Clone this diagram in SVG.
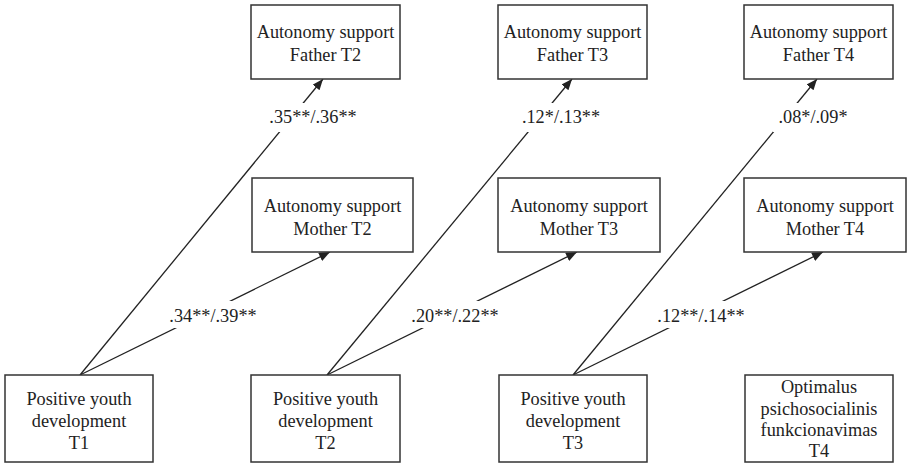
<svg xmlns="http://www.w3.org/2000/svg" width="908" height="465" viewBox="0 0 908 465" font-family="Liberation Serif" font-size="18.3">
<defs>
<marker id="ah" markerUnits="userSpaceOnUse" markerWidth="12" markerHeight="10" refX="11" refY="4.5" orient="auto">
<path d="M0,0 L11,4.5 L0,9 z" fill="#222"/>
</marker>
</defs>
<rect width="908" height="465" fill="#fff"/>
<g id="connectors" stroke="#222" stroke-width="1.3" fill="none">
<line marker-end="url(#ah)" x1="80" y1="375" x2="323" y2="79"/>
<line marker-end="url(#ah)" x1="80" y1="375" x2="330" y2="252"/>
<line marker-end="url(#ah)" x1="327" y1="375" x2="572" y2="79"/>
<line marker-end="url(#ah)" x1="327" y1="375" x2="577" y2="252"/>
<line marker-end="url(#ah)" x1="573" y1="375" x2="817" y2="79"/>
<line marker-end="url(#ah)" x1="573" y1="375" x2="823" y2="252"/>
</g>
<g id="labels" text-anchor="middle" fill="#222" font-family="Liberation Serif, serif" font-size="18.3">
<rect fill="#fff" x="266" y="103" width="94" height="29"/>
<text x="313" y="123">.35**/.36**</text>
<rect fill="#fff" x="521" y="103" width="80" height="29"/>
<text x="561" y="123">.12*/.13**</text>
<rect fill="#fff" x="773" y="103" width="80" height="29"/>
<text x="813" y="123">.08*/.09*</text>
<rect fill="#fff" x="167" y="301" width="93" height="27"/>
<text x="213" y="322">.34**/.39**</text>
<rect fill="#fff" x="409" y="301" width="93" height="27"/>
<text x="455" y="322">.20**/.22**</text>
<rect fill="#fff" x="655" y="301" width="93" height="27"/>
<text x="701" y="322">.12**/.14**</text>
</g>
<g text-anchor="middle" font-family="Liberation Serif, serif" font-size="18.3">
<g id="father-t2"><rect fill="#fff" stroke="#333" stroke-width="1.5" x="251" y="5" width="149" height="74"/><text fill="#222" x="325.5" y="38">Autonomy support</text><text fill="#222" x="325.5" y="61">Father T2</text></g>
<g id="father-t3"><rect fill="#fff" stroke="#333" stroke-width="1.5" x="498" y="5" width="149" height="74"/><text fill="#222" x="572.5" y="38">Autonomy support</text><text fill="#222" x="572.5" y="61">Father T3</text></g>
<g id="father-t4"><rect fill="#fff" stroke="#333" stroke-width="1.5" x="744" y="5" width="149" height="74"/><text fill="#222" x="818.5" y="38">Autonomy support</text><text fill="#222" x="818.5" y="61">Father T4</text></g>
<g id="mother-t2"><rect fill="#fff" stroke="#333" stroke-width="1.5" x="252" y="178" width="161" height="74"/><text fill="#222" x="332.5" y="212">Autonomy support</text><text fill="#222" x="332.5" y="235">Mother T2</text></g>
<g id="mother-t3"><rect fill="#fff" stroke="#333" stroke-width="1.5" x="498" y="178" width="162" height="74"/><text fill="#222" x="579" y="212">Autonomy support</text><text fill="#222" x="579" y="235">Mother T3</text></g>
<g id="mother-t4"><rect fill="#fff" stroke="#333" stroke-width="1.5" x="744" y="178" width="162" height="74"/><text fill="#222" x="825" y="212">Autonomy support</text><text fill="#222" x="825" y="235">Mother T4</text></g>
<g id="pyd-t1"><rect fill="#fff" stroke="#333" stroke-width="1.5" x="5" y="375" width="148" height="87"/><text fill="#222" x="79" y="405">Positive youth</text><text fill="#222" x="79" y="427">development</text><text fill="#222" x="79" y="449">T1</text></g>
<g id="pyd-t2"><rect fill="#fff" stroke="#333" stroke-width="1.5" x="251" y="375" width="149" height="87"/><text fill="#222" x="325.5" y="405">Positive youth</text><text fill="#222" x="325.5" y="427">development</text><text fill="#222" x="325.5" y="449">T2</text></g>
<g id="pyd-t3"><rect fill="#fff" stroke="#333" stroke-width="1.5" x="499" y="375" width="148" height="87"/><text fill="#222" x="573" y="405">Positive youth</text><text fill="#222" x="573" y="427">development</text><text fill="#222" x="573" y="449">T3</text></g>
<g id="opt-t4"><rect fill="#fff" stroke="#333" stroke-width="1.5" x="745" y="375" width="148" height="87"/><text fill="#222" x="819" y="393">Optimalus</text><text fill="#222" x="819" y="414.5">psichosocialinis</text><text fill="#222" x="819" y="436">funkcionavimas</text><text fill="#222" x="819" y="457">T4</text></g>
</g>
</svg>
